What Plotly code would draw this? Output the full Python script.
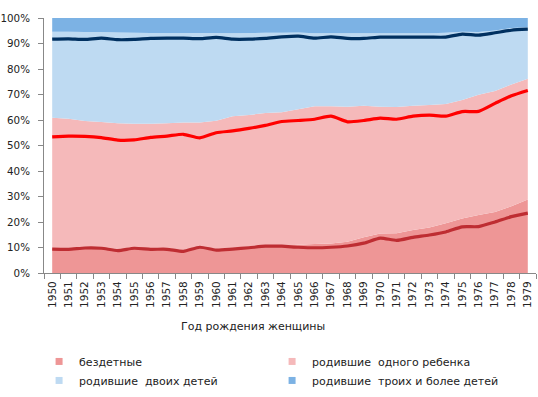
import plotly.graph_objects as go

years = [str(y) for y in range(1950, 1980)]

# shares of women by number of children (stacked areas), %
childless = [9.5, 9.4, 9.8, 9.7, 9.0, 9.7, 9.4, 9.4, 8.7, 10.1, 9.2, 9.5, 10.0, 10.5, 10.7,
             11.1, 11.4, 11.6, 12.3, 14.0, 15.5, 15.6, 16.9, 17.8, 19.5, 21.4, 22.7, 23.9, 26.2, 28.8]
one_child = [51.4, 51.1, 49.8, 49.5, 49.7, 48.8, 49.1, 49.3, 50.3, 48.9, 50.5, 52.0, 52.0, 52.2, 52.3,
             53.1, 54.0, 53.8, 52.9, 51.6, 49.7, 49.5, 48.7, 48.1, 46.8, 46.4, 47.2, 47.5, 47.7, 47.4]
two_children = [33.7, 34.1, 34.9, 35.3, 35.6, 35.7, 35.6, 35.4, 35.1, 35.1, 34.4, 32.5, 32.1, 31.5, 31.2,
                30.1, 28.6, 28.6, 28.8, 28.4, 28.8, 28.9, 28.4, 28.1, 27.9, 26.8, 24.6, 23.7, 22.2, 20.2]
three_plus = [5.4, 5.4, 5.5, 5.5, 5.7, 5.8, 5.9, 5.9, 5.9, 5.9, 5.9, 6.0, 5.9, 5.8, 5.8,
              5.7, 6.0, 6.0, 6.0, 6.0, 6.0, 6.0, 6.0, 6.0, 5.8, 5.4, 5.5, 4.9, 3.9, 3.6]

# cumulative lines (second estimate), %
line_childless = [9.4, 9.3, 9.8, 9.7, 8.8, 9.7, 9.3, 9.3, 8.5, 10.1, 9.0, 9.4, 9.9, 10.5, 10.5,
                  10.1, 9.9, 10.1, 10.6, 11.7, 13.7, 12.8, 14.0, 14.9, 16.1, 18.1, 18.2, 20.0, 22.1, 23.5]
line_upto_one = [53.4, 53.7, 53.6, 53.1, 52.1, 52.2, 53.2, 53.7, 54.4, 53.0, 55.0, 55.7, 56.7, 57.9, 59.4,
                 59.8, 60.3, 61.5, 59.3, 59.8, 60.7, 60.3, 61.5, 61.9, 61.5, 63.3, 63.4, 66.5, 69.5, 71.6]
line_upto_two = [91.7, 91.8, 91.6, 92.1, 91.5, 91.6, 92.0, 92.1, 92.1, 91.9, 92.4, 91.7, 91.7, 92.0, 92.6,
                 92.9, 92.1, 92.6, 92.0, 92.0, 92.5, 92.5, 92.5, 92.5, 92.5, 93.7, 93.3, 94.2, 95.2, 95.6]

y_ticks = list(range(0, 101, 10))
y_ticklabels = [f"{v}%" for v in y_ticks]

series = [
    ("бездетные", childless, "rgb(238,150,150)"),
    ("родившие  одного ребенка", one_child, "rgb(245,185,186)"),
    ("родившие  двоих детей", two_children, "rgb(190,218,242)"),
    ("родившие  троих и более детей", three_plus, "rgb(124,178,228)"),
]

FONT = "DejaVu Sans"
fig = go.Figure()

for name, vals, col in series:
    fig.add_trace(go.Scatter(
        x=years, y=vals, name=name, stackgroup="one", mode="none",
        fillcolor=col, showlegend=False, hoverinfo="x+y+name"))

for name, vals, col in [("l1", line_childless, "rgb(190,45,50)"),
                        ("l2", line_upto_one, "rgb(255,0,0)"),
                        ("l3", line_upto_two, "rgb(0,48,96)")]:
    fig.add_trace(go.Scatter(
        x=years, y=vals, mode="lines", line=dict(color=col, width=3.2, shape="spline", smoothing=0.6),
        showlegend=False, name=name))

# legend entries with square swatches
for name, vals, col in series:
    fig.add_trace(go.Scatter(
        x=[None], y=[None], mode="markers", name=name,
        marker=dict(symbol="square", size=7, color=col), showlegend=True))

fig.update_layout(
    width=538, height=397,
    margin=dict(l=44, r=2, t=18, b=121),
    paper_bgcolor="white", plot_bgcolor="white",
    font=dict(family=FONT, size=11, color="#222"),
    showlegend=True,
    legend=dict(orientation="h", x=-0.01, xanchor="left", y=-0.29, yanchor="top",
                traceorder="normal",
                entrywidth=188, entrywidthmode="pixels", font=dict(size=11, family=FONT),
                itemwidth=30, tracegroupgap=0, bgcolor="rgba(0,0,0,0)"),
    xaxis=dict(type="category", range=[-0.5, 29.5], tickangle=-90, tickson="boundaries",
               ticks="outside", ticklen=5, tickcolor="#888", showline=True, linecolor="#888",
               showgrid=False, tickfont=dict(size=10.5, family=FONT), fixedrange=True,
               automargin=False, ticklabelstandoff=3),
    yaxis=dict(range=[0, 100], tickvals=y_ticks, ticktext=y_ticklabels, ticks="outside",
               ticklen=5, tickcolor="#888", showline=True, linecolor="#888", showgrid=False,
               zeroline=False, tickfont=dict(size=10.3, family=FONT), fixedrange=True,
               automargin=False, ticklabelstandoff=6),
    annotations=[dict(text="Год рождения женщины", xref="paper", yref="paper",
                      x=0.425, y=-0.21, xanchor="center", yanchor="middle", showarrow=False,
                      font=dict(size=11, family=FONT))],
)

fig.write_html("out.html", config={"displayModeBar": False},
               post_script="document.body.style.margin='0';")
